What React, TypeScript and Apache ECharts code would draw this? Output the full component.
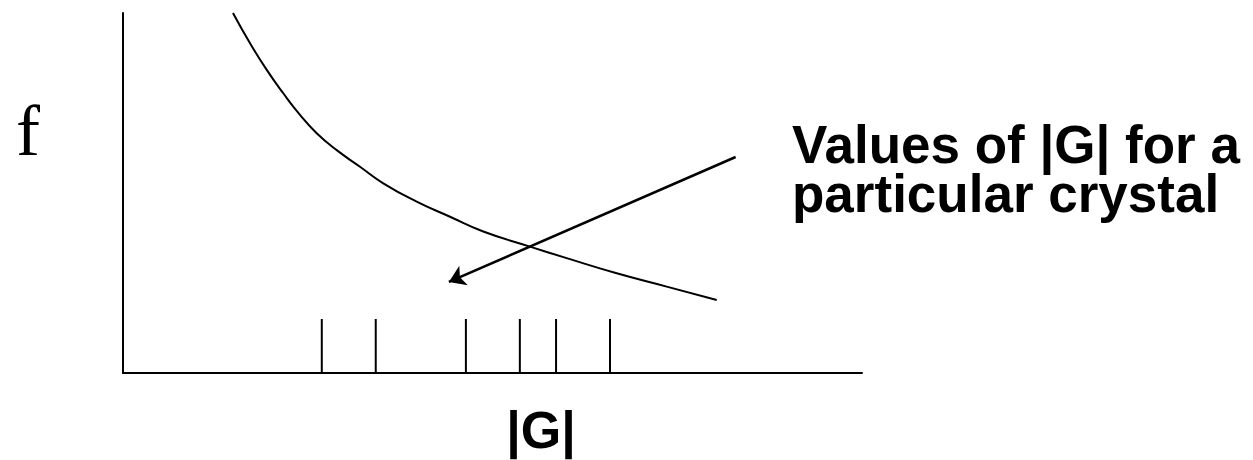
import React, { useEffect, useRef } from "react";
import * as echarts from "echarts";

// Scattering factor curve f(|G|) (arbitrary units)
const curveG = [14.88, 17.19, 19.45, 21.69, 23.95, 26.21, 28.92, 32.07, 35.22, 39.74, 44.25, 48.75, 55.07, 60.04, 66.81, 73.57, 80.34];
const curveF = [100, 91.6, 84.2, 77.7, 71.7, 66.6, 61.9, 57.3, 52.7, 47.6, 43.4, 39.3, 35.1, 31.9, 27.7, 24.0, 20.3];

// Values of |G| for a particular crystal
const crystalG = [26.9, 34.2, 46.4, 53.7, 58.6, 65.9];
const crystalTickHeight = 15;

// Arrow from the annotation toward the tick marks
const arrowFrom = [82.9, 60];
const arrowTo = [44.1, 25.3];

const labelText = "Values of |G| for a\nparticular crystal";
const xName = "|G|";
const yName = "f";

export default function App() {
  const ref = useRef<HTMLDivElement>(null);
  useEffect(() => {
    if (!ref.current) return;
    const chart = echarts.init(ref.current, undefined, { renderer: "svg" });
    const bold = "'Liberation Sans', Arial, sans-serif";
    chart.setOption({
      animation: false,
      backgroundColor: "#fff",
      grid: { left: 123, top: 13, width: 739, height: 360 },
      xAxis: {
        type: "value",
        min: 0,
        max: 100,
        axisLine: { show: true, lineStyle: { color: "#000", width: 2 } },
        axisTick: { show: false },
        axisLabel: { show: false },
        splitLine: { show: false },
      },
      yAxis: {
        type: "value",
        min: 0,
        max: 100,
        axisLine: { show: true, lineStyle: { color: "#000", width: 2 } },
        axisTick: { show: false },
        axisLabel: { show: false },
        splitLine: { show: false },
      },
      series: [
        {
          type: "line",
          smooth: true,
          symbol: "none",
          data: curveG.map((g, i) => [g, curveF[i]]),
          lineStyle: { color: "#000", width: 2 },
        },
        {
          type: "custom",
          data: crystalG.map((g) => [g, crystalTickHeight]),
          renderItem: (params: any, api: any) => {
            const x = api.value(0);
            const h = api.value(1);
            const p0 = api.coord([x, 0]);
            const p1 = api.coord([x, h]);
            return {
              type: "line",
              shape: { x1: p0[0], y1: p0[1], x2: p1[0], y2: p1[1] },
              style: { stroke: "#000", lineWidth: 2 },
            };
          },
        },
        {
          type: "lines",
          coordinateSystem: "cartesian2d",
          symbol: ["none", "arrow"],
          symbolSize: 16,
          lineStyle: { color: "#000", width: 2.5, opacity: 1 },
          data: [{ coords: [arrowFrom, arrowTo] }],
        },
      ],
      graphic: [
        {
          type: "text",
          x: 16,
          y: 131,
          style: {
            text: yName,
            font: "72px 'Liberation Serif', 'Times New Roman', serif",
            fill: "#000",
            textAlign: "left",
            textVerticalAlign: "middle",
          },
        },
        {
          type: "text",
          x: 541,
          y: 430,
          style: {
            text: xName,
            font: `bold 52px ${bold}`,
            fill: "#000",
            textAlign: "center",
            textVerticalAlign: "middle",
          },
        },
        {
          type: "text",
          x: 792,
          y: 120,
          style: {
            text: labelText,
            font: `bold 53px ${bold}`,
            lineHeight: 49,
            fill: "#000",
            textAlign: "left",
            textVerticalAlign: "top",
          },
        },
      ],
    });
    return () => chart.dispose();
  }, []);
  return (
    <div
      ref={ref}
      style={{ position: "fixed", left: 0, top: 0, width: 1253, height: 460 }}
    />
  );
}
